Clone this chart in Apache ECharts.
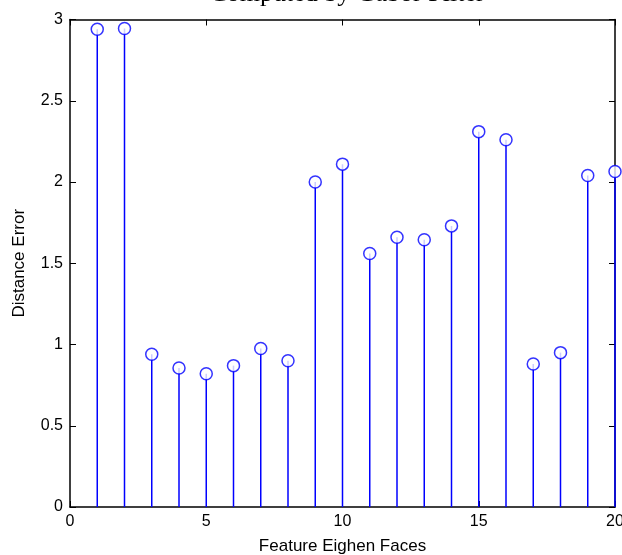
<!DOCTYPE html>
<html><head><meta charset="utf-8">
<script src="https://cdn.jsdelivr.net/npm/echarts@6/dist/echarts.min.js"></script>
<style>html,body{margin:0;padding:0;background:#fff}#c{width:622px;height:555px}</style>
</head><body><div id="c"></div>
<script>
const features = [1,2,3,4,5,6,7,8,9,10,11,12,13,14,15,16,17,18,19,20];
const distanceError = [2.94,2.945,0.94,0.855,0.82,0.87,0.975,0.9,2.0,2.11,1.56,1.66,1.645,1.73,2.31,2.26,0.88,0.95,2.04,2.065];
const xTicks = [0,5,10,15,20];
const yTicks = [0,0.5,1,1.5,2,2.5,3];

const pts = features.map((f,i)=>[f,distanceError[i]]);
const chart = echarts.init(document.getElementById('c'));
const tickFont = {fontFamily:'Liberation Sans, Arial, sans-serif', fontSize:16, color:'#000'};
const nameFont = {fontFamily:'Liberation Sans, Arial, sans-serif', fontSize:17, color:'#000'};
chart.setOption({
  animation:false,
  title:{text:'Computed by Gabor Filter', left:342, textAlign:'center', top:-24,
    textStyle:{fontFamily:'Liberation Serif, Times New Roman, serif', fontSize:26, fontWeight:'normal', color:'#000'}},
  grid:{left:70, right:7, top:19.5, bottom:48, outerBoundsMode:'none', containLabel:false},
  xAxis:[{type:'value', min:0, max:20, interval:5,
    name:'Feature Eighen Faces', nameLocation:'middle', nameGap:31, nameTextStyle:nameFont,
    axisLine:{lineStyle:{color:'#000', width:1.5}}, axisTick:{inside:true, length:6, lineStyle:{color:'#000'}},
    axisLabel:Object.assign({margin:7, formatter:v=>xTicks.includes(v)?String(v):''}, tickFont), splitLine:{show:false}},
    {type:'value', position:'top', min:0, max:20, interval:5,
    axisLine:{show:true, onZero:false, lineStyle:{color:'#000', width:1.5}}, axisTick:{inside:true, length:6, lineStyle:{color:'#000'}},
    axisLabel:{show:false}, splitLine:{show:false}}],
  yAxis:[{type:'value', min:0, max:3, interval:0.5,
    name:'Distance Error', nameLocation:'middle', nameGap:42, nameTextStyle:nameFont,
    axisLine:{show:true, lineStyle:{color:'#000', width:1.5}}, axisTick:{show:true, inside:true, length:6, lineStyle:{color:'#000'}},
    axisLabel:Object.assign({margin:7, formatter:v=>yTicks.includes(v)?String(v):''}, tickFont), splitLine:{show:false}},
    {type:'value', position:'right', min:0, max:3, interval:0.5,
    axisLine:{show:true, onZero:false, lineStyle:{color:'#000', width:1.5}}, axisTick:{show:true, inside:true, length:6, lineStyle:{color:'#000'}},
    axisLabel:{show:false}, splitLine:{show:false}}],
  series:[
    {type:'bar', data:pts, barWidth:1.5, itemStyle:{color:'#0000ff'}, silent:true},
    {type:'scatter', data:pts, symbol:'circle', symbolSize:12,
      itemStyle:{color:'#fff', borderColor:'#0000ff', borderWidth:1.5}, z:5}
  ]
});
</script></body></html>
